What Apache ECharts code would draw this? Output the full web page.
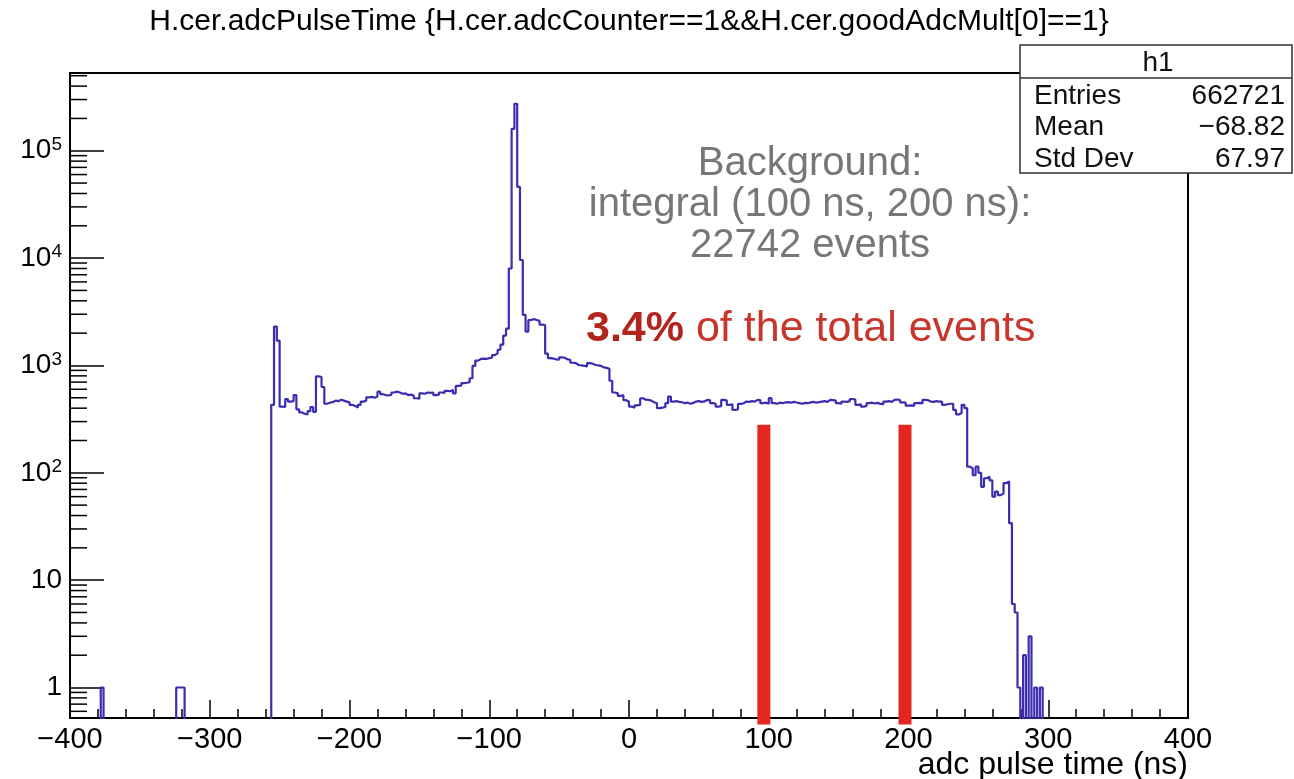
<!DOCTYPE html>
<html>
<head>
<meta charset="utf-8">
<script src="https://cdn.jsdelivr.net/npm/echarts@6/dist/echarts.min.js"></script>
<style>
  html, body { margin: 0; padding: 0; background: #fff; }
  #chart { width: 1294px; height: 779px; }
</style>
</head>
<body>
<div id="chart"></div>
<script>
// histogram h1: 2 ns bins from -400 to 400, counts
const binWidth = 2
const xMin = -400
const xMax = 400
const mainStart = -256
const counts = [
  430, 2300, 1700, 414, 410, 485, 460, 465, 530, 390,
  365, 355, 350, 375, 410, 370, 790, 780, 630, 440,
  450, 455, 470, 465, 480, 470, 460, 455, 430, 420,
  405, 430, 460, 470, 505, 510, 500, 515, 570, 540,
  530, 525, 535, 560, 570, 560, 545, 550, 530, 535,
  525, 495, 490, 550, 545, 560, 555, 560, 530, 535,
  560, 555, 580, 575, 590, 550, 645, 650, 685, 690,
  700, 760, 990, 1110, 1150, 1160, 1150, 1170, 1180, 1250,
  1300, 1400, 1560, 1900, 2200, 8000, 160000, 274000, 46000, 9600,
  2960, 2070, 2650, 2700, 2650, 2600, 2400, 2380, 1290, 1170,
  1160, 1140, 1130, 1190, 1180, 1140, 1130, 1060, 1050, 1010,
  1000, 990, 980, 1050, 1040, 1010, 1000, 990, 960, 950,
  930, 720, 560, 550, 520, 530, 475, 460,
  // 0 ns
  414, 405, 425, 430, 495, 480, 478, 470, 455, 445,
  400, 405, 410, 445, 513, 461, 465, 458, 455, 445,
  450, 440, 448, 461, 465, 458, 462, 478, 475, 445,
  440, 414, 418, 478, 470, 430, 435, 385, 390, 438,
  // 80 ns
  445, 461, 458, 465, 460, 478, 475, 445, 450, 440,
  496, 445, 440, 450, 445, 453, 455, 450, 458, 452,
  445, 440, 448, 445, 453, 458, 450, 455, 461, 465,
  458, 478, 475, 470, 445, 440, 461, 458, 465, 487,
  // 160 ns
  480, 430, 435, 414, 420, 445, 450, 442, 448, 438,
  435, 461, 465, 458, 478, 482, 475, 453, 450, 422,
  425, 420, 445, 448, 442, 478, 475, 461, 458, 465,
  460, 461, 430, 435, 440, 440, 385, 350, 360, 430,
  // 240 ns
  400, 114, 110, 95, 114, 100, 74, 89, 92, 85,
  60, 67, 62, 64, 80, 83, 34, 6, 5, 1,
  0, 2, 0, 3, 0, 1, 0, 1, 0, 0
]
const strayBins = [-378, -324, -322, -320]
const strayCounts = [1, 1, 1, 1]

// background window markers
const bandX = [96.5, 197.5]
const bandTop = 280

const yMin = 0.52
const yMax = 530000
const minorMult = [2, 3, 4, 5, 6, 7, 8, 9]
const decades = [-1, 0, 1, 2, 3, 4, 5]

const statsRows = [
  ['Entries', '662721'],
  ['Mean', '\u221268.82'],
  ['Std Dev', '67.97']
]

const font = '"Liberation Sans", Arial, Helvetica, sans-serif'

// full bin array
const nBins = (xMax - xMin) / binWidth
const bins = new Array(nBins).fill(0)
counts.forEach((c, i) => {
  bins[(mainStart - xMin) / binWidth + i] = c
})
strayBins.forEach((b, i) => {
  bins[(b - xMin) / binWidth] = strayCounts[i]
})

// step points at low edges; empty bins sit below the frame and get clipped
const floorVal = 0.3
const stepData = bins.map((c, i) => [xMin + i * binWidth, c > 0 ? c : floorVal])
stepData.push([xMax, stepData[stepData.length - 1][1]])

const minorTicks = []
decades.forEach(d => {
  minorMult.forEach(m => {
    const v = m * Math.pow(10, d)
    if (v > yMin && v < yMax) minorTicks.push([xMin, v])
  })
})

const chart = echarts.init(document.getElementById('chart'))

const option = {
  animation: false,
  backgroundColor: '#fff',
  grid: {
    left: 70,
    right: 106,
    top: 73,
    bottom: 61,
    show: true,
    borderColor: '#000',
    borderWidth: 2,
    backgroundColor: 'transparent'
  },
  xAxis: {
    type: 'value',
    min: xMin,
    max: xMax,
    interval: 100,
    axisLine: { onZero: false, lineStyle: { color: '#000', width: 2 } },
    axisTick: { inside: true, length: 18, lineStyle: { color: '#000', width: 1.5 } },
    minorTick: { show: true, splitNumber: 5, length: 9, lineStyle: { color: '#000', width: 1.5 } },
    splitLine: { show: false },
    axisLabel: {
      color: '#000',
      fontFamily: font,
      fontSize: 29,
      margin: 7,
      formatter: v => (v < 0 ? '\u2212' + Math.abs(v) : String(v))
    }
  },
  yAxis: {
    type: 'log',
    logBase: 10,
    min: yMin,
    max: yMax,
    axisLine: { onZero: false, lineStyle: { color: '#000', width: 2 } },
    axisTick: { inside: true, length: 34, lineStyle: { color: '#000', width: 1.5 } },
    splitLine: { show: false },
    axisLabel: {
      showMinLabel: false,
      showMaxLabel: false,
      margin: 8,
      color: '#000',
      fontFamily: font,
      fontSize: 28,
      formatter: v => {
        const e = Math.round(Math.log10(v))
        if (Math.abs(Math.log10(v) - e) > 0.01) return ''
        if (e === 0) return '1'
        if (e === 1) return '10'
        return '10{sup|' + e + '}'
      },
      rich: {
        sup: { fontSize: 19, fontFamily: font, color: '#000', verticalAlign: 'top', padding: [0, 0, 12, 0] }
      }
    }
  },
  series: [
    {
      name: 'h1',
      type: 'line',
      step: 'end',
      data: stepData,
      showSymbol: false,
      clip: true,
      lineStyle: { color: '#3b2db0', width: 2.2 },
      z: 3
    },
    ...bandX.map(x => ({
      type: 'line',
      data: [[x, floorVal], [x, bandTop]],
      showSymbol: false,
      clip: true,
      lineStyle: { color: '#e3261f', width: 13 },
      z: 2
    })),
    {
      type: 'custom',
      coordinateSystem: 'cartesian2d',
      data: minorTicks,
      renderItem: (params, api) => {
        const p = api.coord([api.value(0), api.value(1)])
        return {
          type: 'line',
          shape: { x1: p[0], y1: p[1], x2: p[0] + 17, y2: p[1] },
          style: { stroke: '#000', lineWidth: 1.5 }
        }
      },
      z: 4
    }
  ],
  graphic: [
    {
      type: 'text',
      style: {
        text: 'H.cer.adcPulseTime {H.cer.adcCounter==1&&H.cer.goodAdcMult[0]==1}',
        x: 629, y: 22, align: 'center', verticalAlign: 'middle',
        fontFamily: font, fontSize: 30, fill: '#000'
      }
    },
    {
      type: 'text',
      style: {
        text: 'Background:\nintegral (100 ns, 200 ns):\n22742 events',
        x: 810, y: 205, align: 'center', verticalAlign: 'middle',
        fontFamily: font, fontSize: 40, lineHeight: 41, fill: '#777'
      }
    },
    {
      type: 'text',
      style: {
        text: '{b|3.4%}{r| of the total events}',
        x: 586, y: 329, align: 'left', verticalAlign: 'middle',
        rich: {
          b: { fontFamily: font, fontSize: 43, fontWeight: 'bold', fill: '#b2241c' },
          r: { fontFamily: font, fontSize: 43, fill: '#c8362b' }
        }
      }
    },
    {
      type: 'text',
      style: {
        text: 'adc pulse time (ns)',
        x: 1188, y: 765, align: 'right', verticalAlign: 'middle',
        fontFamily: font, fontSize: 32, fill: '#000'
      }
    },
    {
      type: 'group',
      z: 100,
      children: [
        {
          type: 'rect',
          shape: { x: 1020, y: 45, width: 272, height: 128 },
          style: { fill: '#fff', stroke: '#333', lineWidth: 1.5 }
        },
        {
          type: 'line',
          shape: { x1: 1020, y1: 78, x2: 1292, y2: 78 },
          style: { stroke: '#333', lineWidth: 1.5 }
        },
        {
          type: 'text',
          style: { text: 'h1', x: 1158, y: 63, align: 'center', verticalAlign: 'middle', fontFamily: font, fontSize: 28, fill: '#111' }
        },
        ...statsRows.flatMap((row, i) => [
          {
            type: 'text',
            style: { text: row[0], x: 1034, y: 96 + i * 31.5, align: 'left', verticalAlign: 'middle', fontFamily: font, fontSize: 28, fill: '#111' }
          },
          {
            type: 'text',
            style: { text: row[1], x: 1285, y: 96 + i * 31.5, align: 'right', verticalAlign: 'middle', fontFamily: font, fontSize: 28, fill: '#111' }
          }
        ])
      ]
    }
  ]
}

chart.setOption(option)
</script>
</body>
</html>
